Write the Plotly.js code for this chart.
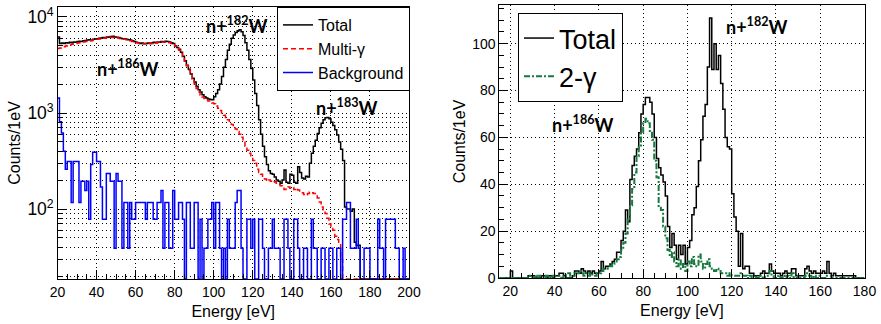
<!DOCTYPE html>
<html>
<head>
<meta charset="utf-8">
<script src="https://cdn.plot.ly/plotly-3.0.1.min.js"></script>
<style>html,body{margin:0;padding:0;background:#fff;}#chart{width:881px;height:324px;}</style>
</head>
<body>
<div id="chart"></div>
<script>
// ---------------- DATA ----------------
// Left panel: 1 eV bins starting at 20 eV (20..199)
const leftStart = 20;
const leftTotal = [
  6200, 5300, 5350, 5300, 5400, 5350, 5450, 5400, 5500, 5450,
  5550, 5600, 5550, 5650, 5700, 5750, 5800, 5700, 5850, 5900,
  5950, 6000, 6050, 6100, 6050, 6200, 6150, 6250, 6300, 6200,
  6150, 6100, 6000, 5950, 5900, 5850, 5800, 5750, 5650, 5550,
  5450, 5400, 5300, 5350, 5250, 5300, 5350, 5300, 5400, 5450,
  5400, 5500, 5450, 5550, 5500, 5600, 5550, 5500, 5400, 5300,
  5000, 4800, 4600, 4300, 3900, 3500, 3150, 2850, 2550, 2300,
  2100, 1900, 1750, 1650, 1550, 1480, 1430, 1400, 1380, 1370,
  1480, 1600, 1750, 2000, 2400, 3000, 3600, 4500, 5200, 6000,
  6500, 6900, 7200, 7350, 7000, 6400, 5400, 4500, 3600, 2900,
  2200, 1600, 1200, 850, 600, 450, 350, 290, 250, 235,
  230, 215, 200, 195, 185, 200, 255, 190, 185, 230,
  225, 190, 185, 275, 240, 210, 205, 220, 215, 300,
  380, 450, 520, 610, 700, 780, 850, 890, 900, 870,
  800, 740, 670, 590, 500, 420, 320, 105, 100, 100,
  95, 100, 45, 42, 42, 0, 0, 0, 0, 0,
  0, 0, 0, 0, 0, 0, 0, 0, 0, 0,
  0, 0, 0, 0, 0, 0, 0, 0, 0, 0
];
const leftMultiGamma = [
  4700, 4750, 4850, 4900, 5000, 5050, 5100, 5200, 5250, 5300,
  5350, 5400, 5450, 5500, 5550, 5600, 5650, 5700, 5750, 5800,
  5850, 5900, 5950, 6000, 6050, 6100, 6050, 6150, 6100, 6050,
  6100, 6000, 5950, 5900, 5850, 5800, 5700, 5650, 5550, 5450,
  5400, 5350, 5300, 5250, 5300, 5250, 5300, 5350, 5300, 5400,
  5350, 5450, 5400, 5500, 5450, 5500, 5450, 5400, 5300, 5200,
  5000, 4750, 4500, 4200, 3850, 3450, 3100, 2800, 2500, 2250,
  2000, 1800, 1650, 1540, 1470, 1420, 1370, 1330, 1300, 1270,
  1250, 1180, 1120, 1060, 1000, 950, 900, 850, 800, 760,
  720, 680, 640, 600, 560, 500, 450, 410, 380, 350,
  320, 300, 260, 240, 230, 215, 205, 195, 200, 195,
  190, 192, 185, 180, 175, 170, 160, 165, 170, 165,
  168, 160, 165, 158, 150, 148, 142, 140, 145, 150,
  148, 145, 140, 130, 118, 105, 98, 90, 80, 70,
  64, 60, 52, 48, 45, 30, 0, 0, 0, 0,
  0, 0, 0, 0, 0, 0, 0, 0, 0, 0,
  0, 0, 0, 0, 0, 0, 0, 0, 0, 0,
  0, 0, 0, 0, 0, 0, 0, 0, 0, 0
];
const leftBackground = [
  1430, 810, 620, 400, 260, 312, 312, 117, 312, 312,
  312, 117, 195, 195, 156, 195, 78, 290, 390, 390,
  312, 312, 170, 78, 78, 234, 234, 195, 195, 39,
  234, 195, 195, 39, 117, 117, 39, 117, 78, 78,
  117, 117, 117, 117, 117, 78, 117, 117, 117, 78,
  78, 117, 117, 156, 39, 117, 117, 39, 39, 156,
  78, 78, 117, 117, 78, 0, 117, 117, 39, 39,
  117, 117, 0, 78, 0, 39, 39, 78, 78, 117,
  39, 117, 117, 39, 0, 39, 0, 78, 39, 39,
  39, 117, 156, 156, 39, 0, 0, 78, 78, 39,
  78, 0, 0, 78, 78, 39, 0, 0, 39, 39,
  78, 39, 39, 39, 0, 0, 78, 78, 39, 0,
  0, 78, 78, 39, 0, 0, 39, 39, 0, 0,
  78, 39, 39, 0, 0, 39, 39, 0, 0, 39,
  39, 0, 0, 39, 39, 0, 78, 78, 117, 117,
  39, 39, 39, 78, 39, 0, 0, 39, 39, 39,
  0, 0, 0, 0, 78, 39, 39, 0, 78, 78,
  78, 78, 78, 39, 39, 0, 0, 39, 0, 0
];

// Right panel: 1 eV bins starting at 15 eV (15..179)
const rightStart = 15;
const rightTotal = [
  0, 0, 0, 0, 0,
  3, 0, 0, 0, 0, 0, 0, 0, 1, 1,
  1, 0, 0, 0, 1, 1, 0, 1, 1, 0,
  1, 1, 2, 2, 1, 0, 0, 0, 1, 3,
  3, 2, 4, 3, 2, 3, 2, 3, 2, 2,
  3, 7, 4, 5, 5, 6, 7, 8, 11, 11,
  16, 20, 29, 24, 42, 48, 52, 55, 62, 70,
  74, 77, 77, 75, 70, 60, 51, 47, 44, 41,
  35, 22, 13, 19, 14, 8, 14, 10, 14, 6,
  13, 16, 27, 30, 39, 50, 59, 69, 74, 90,
  111, 89, 100, 89, 95, 83, 72, 60, 56, 55,
  36, 26, 20, 5, 19, 4, 5, 5, 2, 2,
  1, 1, 1, 2, 3, 2, 2, 6, 3, 2,
  2, 2, 1, 2, 3, 2, 2, 4, 4, 1,
  1, 1, 1, 4, 5, 3, 2, 3, 2, 2,
  2, 3, 2, 7, 2, 1, 2, 1, 1, 1,
  1, 1, 1, 1, 1, 1, 0, 0, 0, 0
];
const rightTwoGamma = [
  0, 0, 0, 0, 0,
  0, 0, 0, 0, 0, 0, 0, 0, 1, 1,
  0, 1, 0, 1, 1, 0, 1, 1, 0, 1,
  1, 1, 1, 0, 1, 2, 2, 1, 1, 2,
  2, 3, 2, 1, 2, 1, 2, 1, 1, 2,
  2, 3, 4, 4, 5, 5, 6, 7, 8, 9,
  12, 15, 19, 25, 31, 38, 45, 52, 56, 62,
  66, 68, 66, 62, 59, 50, 43, 30, 29, 22,
  17, 12, 9, 11, 7, 5, 8, 4, 6, 3,
  7, 5, 9, 6, 5, 10, 7, 4, 6, 8,
  5, 4, 3, 4, 3, 2, 2, 2, 1, 2,
  1, 1, 1, 1, 2, 1, 1, 0, 1, 0,
  1, 0, 0, 1, 0, 1, 1, 3, 1, 0,
  0, 1, 0, 1, 0, 1, 0, 2, 0, 0,
  1, 0, 0, 1, 2, 1, 0, 1, 0, 1,
  0, 0, 0, 1, 1, 0, 0, 0, 0, 0,
  0, 0, 0, 0, 0, 0, 0, 0, 0, 0
];

const leftTickVals = [20, 40, 60, 80, 100, 120, 140, 160, 180, 200];
const rightTickVals = [20, 40, 60, 80, 100, 120, 140, 160, 180];

// ---------------- HELPERS ----------------
const leftYRange = [1.271, 4.104];
const leftFloor = Math.pow(10, leftYRange[0]);

function binEdges(start, n) {
  const e = [];
  for (let i = 0; i <= n; i++) e.push(start + i);
  return e;
}
function stepY(vals, floor) {
  const v = vals.map(d => (floor !== undefined && d <= 0) ? floor : d);
  v.push(v[v.length - 1]);
  return v;
}

const WIDTH = 881, HEIGHT = 324;
const FONT = 'Liberation Sans, Arial, Helvetica, sans-serif';

const leftX = binEdges(leftStart, leftTotal.length);
const rightX = binEdges(rightStart, rightTotal.length);

const data = [
  {type: 'scatter', mode: 'lines', name: 'Total', x: leftX, y: stepY(leftTotal, leftFloor),
   line: {shape: 'hv', color: '#000000', width: 1.5}, xaxis: 'x', yaxis: 'y', legend: 'legend', hoverinfo: 'skip'},
  {type: 'scatter', mode: 'lines', name: 'Multi-γ', x: leftX, y: stepY(leftMultiGamma, leftFloor),
   line: {shape: 'hv', color: '#ff0000', width: 1.5, dash: '5px,3px'}, xaxis: 'x', yaxis: 'y', legend: 'legend', hoverinfo: 'skip'},
  {type: 'scatter', mode: 'lines', name: 'Background', x: leftX, y: stepY(leftBackground, leftFloor),
   line: {shape: 'hv', color: '#0000ff', width: 1.5}, xaxis: 'x', yaxis: 'y', legend: 'legend', hoverinfo: 'skip'},
  {type: 'scatter', mode: 'lines', name: 'Total', x: rightX, y: stepY(rightTotal),
   line: {shape: 'hv', color: '#000000', width: 1.5}, xaxis: 'x2', yaxis: 'y2', legend: 'legend2', hoverinfo: 'skip'},
  {type: 'scatter', mode: 'lines', name: '2-γ', x: rightX, y: stepY(rightTwoGamma),
   line: {shape: 'hv', color: '#167a3e', width: 2, dash: '6px,2px,2px,2px'}, xaxis: 'x2', yaxis: 'y2', legend: 'legend2', hoverinfo: 'skip'}
];

const gridDash = '1px,3px';
const commonAxis = {
  showline: true, mirror: true, linecolor: '#000', linewidth: 1,
  ticks: 'inside', ticklen: 9, tickwidth: 1, tickcolor: '#000',
  showgrid: true, gridcolor: '#000', gridwidth: 1, griddash: gridDash,
  zeroline: false,
  tickfont: {family: FONT, size: 14, color: '#000'},
  fixedrange: true
};
const titleFont = {family: FONT, size: 16, color: '#000'};

const layout = {
  width: WIDTH, height: HEIGHT,
  margin: {l: 0, r: 0, t: 0, b: 0},
  paper_bgcolor: '#fff', plot_bgcolor: '#fff',
  font: {family: FONT, color: '#000'},
  xaxis: Object.assign({}, commonAxis, {
    domain: [57.5 / WIDTH, 409 / WIDTH], range: [20, 200], anchor: 'y',
    tickmode: 'array', tickvals: leftTickVals, ticktext: leftTickVals.map(String),
    minor: {dtick: 5, tick0: 0, ticks: 'inside', ticklen: 5, tickcolor: '#000', showgrid: false},
    title: {text: 'Energy [eV]', font: titleFont, standoff: 7}
  }),
  yaxis: Object.assign({}, commonAxis, {
    domain: [1 - 279 / HEIGHT, 1 - 7 / HEIGHT], type: 'log', range: leftYRange, anchor: 'x',
    dtick: 1, exponentformat: 'power', showexponent: 'all',
    minor: {dtick: 'D1', ticks: 'inside', ticklen: 5, tickcolor: '#000', showgrid: true,
            gridcolor: '#000', gridwidth: 1, griddash: gridDash},
    title: {text: 'Counts/1eV', font: titleFont, standoff: 2}
  }),
  xaxis2: Object.assign({}, commonAxis, {
    domain: [499.3 / WIDTH, 864.5 / WIDTH], range: [15, 180], anchor: 'y2',
    tickmode: 'array', tickvals: rightTickVals, ticktext: rightTickVals.map(String),
    minor: {dtick: 5, tick0: 0, ticks: 'inside', ticklen: 5, tickcolor: '#000', showgrid: false},
    title: {text: 'Energy [eV]', font: titleFont, standoff: 7}
  }),
  yaxis2: Object.assign({}, commonAxis, {
    domain: [1 - 278 / HEIGHT, 1 - 5 / HEIGHT], range: [0, 116.5], anchor: 'x2',
    dtick: 20, tick0: 0,
    minor: {dtick: 5, tick0: 0, ticks: 'inside', ticklen: 5, tickcolor: '#000', showgrid: false},
    title: {text: 'Counts/1eV', font: titleFont, standoff: 2}
  }),
  showlegend: true,
  legend: {
    x: 277 / WIDTH, y: 1 - 7 / HEIGHT, xanchor: 'left', yanchor: 'top',
    bgcolor: '#fff', bordercolor: '#000', borderwidth: 1,
    font: {family: FONT, size: 16, color: '#000'}, traceorder: 'normal', itemwidth: 30
  },
  legend2: {
    x: 518 / WIDTH, y: 1 - 13 / HEIGHT, xanchor: 'left', yanchor: 'top',
    bgcolor: '#fff', bordercolor: '#000', borderwidth: 1,
    font: {family: FONT, size: 27, color: '#000'}, traceorder: 'normal', itemwidth: 30
  },
  annotations: [
    {text: 'n+<sup>182</sup>W', x: 237 / WIDTH, y: 1 - 25 / HEIGHT},
    {text: 'n+<sup>186</sup>W', x: 128 / WIDTH, y: 1 - 68 / HEIGHT},
    {text: 'n+<sup>183</sup>W', x: 347 / WIDTH, y: 1 - 107 / HEIGHT},
    {text: 'n+<sup>182</sup>W', x: 757 / WIDTH, y: 1 - 26 / HEIGHT},
    {text: 'n+<sup>186</sup>W', x: 583 / WIDTH, y: 1 - 124 / HEIGHT}
  ].map(a => Object.assign(a, {
    xref: 'paper', yref: 'paper', xanchor: 'center', yanchor: 'middle', showarrow: false,
    font: {family: 'Lato, Open Sans, sans-serif', size: 18, color: '#000', weight: 700}
  }))
};

Plotly.newPlot('chart', data, layout, {staticPlot: true, displayModeBar: false});
</script>
</body>
</html>
